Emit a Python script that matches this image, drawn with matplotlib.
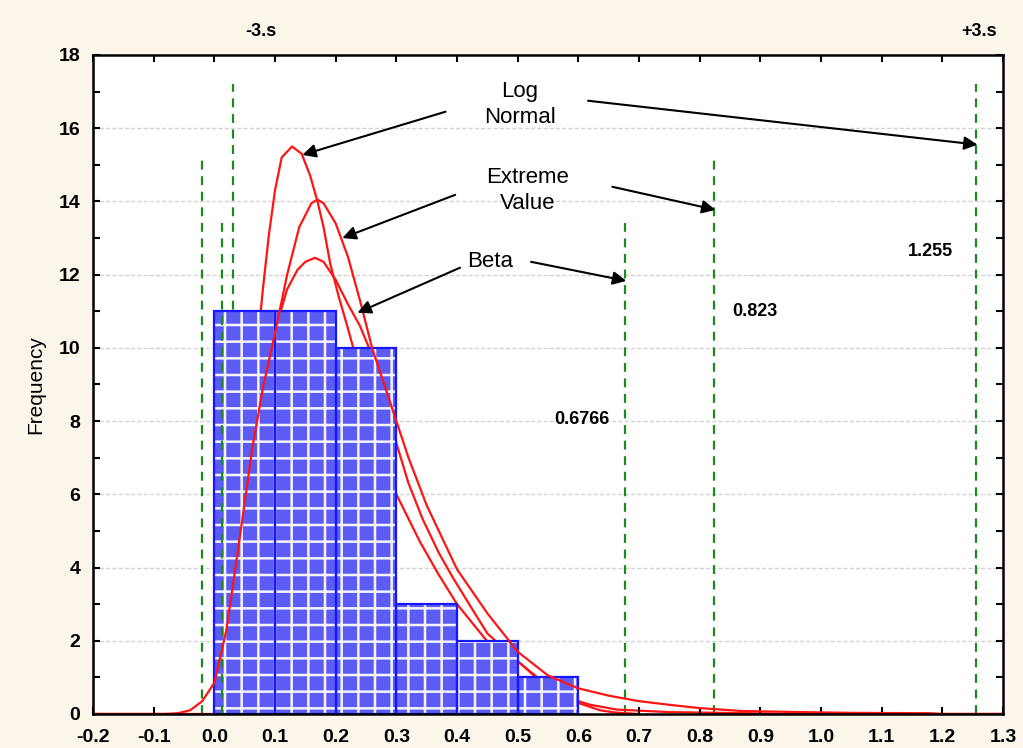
import matplotlib.pyplot as plt
from matplotlib.ticker import MultipleLocator, FormatStrFormatter

plt.rcParams['font.family'] = ['Liberation Sans', 'DejaVu Sans']
plt.rcParams['hatch.linewidth'] = 1.8

# Histograma
bin_left = [0.0, 0.1, 0.2, 0.3, 0.4, 0.5]
freq = [11, 11, 10, 3, 2, 1]
bin_width = 0.1

# Curvas ajustadas
ln_x = [-0.2, 0.0, 0.02, 0.03, 0.04, 0.05, 0.06, 0.07, 0.08, 0.09, 0.10, 0.111, 0.128,
        0.144, 0.158, 0.17, 0.18, 0.191, 0.205, 0.219, 0.229, 0.25, 0.27, 0.30, 0.339,
        0.37, 0.40, 0.449, 0.504, 0.54, 0.556, 0.60, 0.62, 0.663, 0.75, 0.88, 0.95, 1.3]
ln_y = [0, 0, 0.6, 2.0, 3.9, 6.0, 8.0, 9.9, 11.6, 13.1, 14.3, 15.2, 15.5,
        15.3, 14.7, 14.0, 13.3, 12.3, 11.4, 10.6, 10.0, 8.8, 7.6, 6.0, 4.7,
        3.8, 3.0, 2.0, 1.38, 0.9, 0.65, 0.35, 0.25, 0.12, 0.05, 0.02, 0, 0]

ev_x = [-0.2, -0.08, -0.06, -0.04, -0.02, 0.0, 0.02, 0.04, 0.063, 0.08, 0.10, 0.12, 0.14,
        0.16, 0.17, 0.18, 0.20, 0.22, 0.24, 0.26, 0.28, 0.30, 0.32, 0.35, 0.37, 0.40,
        0.45, 0.50, 0.55, 0.60, 0.65, 0.70, 0.75, 0.80, 0.87, 0.97, 1.05, 1.18, 1.2, 1.3]
ev_y = [0, 0, 0.02, 0.1, 0.35, 0.85, 2.3, 4.6, 7.3, 8.9, 10.4, 12.0, 13.3,
        13.95, 14.05, 13.95, 13.4, 12.5, 11.3, 10.0, 9.0, 8.0, 7.0, 5.7, 5.0, 3.95,
        2.75, 1.7, 1.05, 0.7, 0.5, 0.35, 0.25, 0.16, 0.08, 0.05, 0.03, 0.02, 0, 0]

beta_x = [0.0, 0.02, 0.04, 0.06, 0.08, 0.10, 0.109, 0.12, 0.137, 0.15, 0.166, 0.18, 0.20,
          0.22, 0.24, 0.255, 0.28, 0.30, 0.32, 0.344, 0.37, 0.394, 0.42, 0.45, 0.50,
          0.53, 0.556, 0.60, 0.636, 0.66, 0.70]
beta_y = [0, 1.5, 3.6, 5.8, 8.0, 10.2, 10.98, 11.6, 12.13, 12.35, 12.46, 12.35, 11.86,
          11.2, 10.6, 10.0, 8.7, 7.4, 6.3, 5.3, 4.4, 3.7, 3.0, 2.2, 1.45,
          1.0, 0.55, 0.3, 0.1, 0.04, 0.0]

# Limites -3s / +3s
lim_x = [-0.02, 0.012, 0.03, 0.6766, 0.823, 1.255]
lim_top = [15.3, 13.4, 17.2, 13.4, 15.3, 17.2]
lim_labels = ['0.6766', '0.823', '1.255']

fig = plt.figure(figsize=(10.23, 7.48), dpi=100, facecolor='#fcf6ea')
ax = fig.add_axes([0.0909, 0.0455, 0.8896, 0.881])
ax.set_facecolor('white')

ax.set_xlim(-0.2, 1.3)
ax.set_ylim(0, 18)

# grid
for g in range(2, 18, 2):
    ax.axhline(g, color='#d2d2d2', lw=1, ls=(0, (3, 1.5)), zorder=0)

# lineas verdes
for i, (xv, h) in enumerate(zip(lim_x, lim_top)):
    z = 4 if i == 1 else 1
    ax.vlines(xv, 0, h, colors='#1e8a1e', linestyles=(0, (4, 3)), lw=1.6, zorder=z)

ax.plot(ln_x, ln_y, color='#ff1414', lw=1.6, zorder=1.5)
ax.plot(beta_x, beta_y, color='#ff1414', lw=1.6, zorder=1.5)

# barras con trama
ax.bar(bin_left, freq, width=bin_width, align='edge', color='#5c5cf4',
       edgecolor='#f4f4ff', hatch='+', lw=0, zorder=2)
ax.bar(bin_left, freq, width=bin_width, align='edge', fill=False,
       edgecolor='#1616ff', lw=1.6, zorder=3)

ax.plot(ev_x, ev_y, color='#ff1414', lw=1.6, zorder=5)

# ejes
ax.xaxis.set_major_locator(MultipleLocator(0.1))
ax.xaxis.set_major_formatter(FormatStrFormatter('%.1f'))
ax.yaxis.set_major_locator(MultipleLocator(2))
ax.yaxis.set_minor_locator(MultipleLocator(1))
ax.tick_params(which='both', direction='in', top=True, right=True, length=5,
               width=1.5, labelsize=14)
ax.tick_params(axis='x', pad=11)
ax.tick_params(axis='y', pad=9)
for lab in ax.get_xticklabels() + ax.get_yticklabels():
    lab.set_fontweight('bold')
for s in ax.spines.values():
    s.set_linewidth(1.8)
    s.set_zorder(6)
ax.set_ylabel('Frequency', fontsize=15, labelpad=10)

# textos y flechas
tfs = 16
ap = dict(arrowstyle='-|>', color='black', lw=1.5, mutation_scale=20, shrinkA=0, shrinkB=0)
ax.text(0.504, 16.65, 'Log\nNormal', ha='center', va='center', fontsize=tfs, linespacing=1.3, zorder=7)
ax.annotate('', xy=(0.145, 15.27), xytext=(0.381, 16.45), arrowprops=ap, zorder=7)
ax.annotate('', xy=(1.258, 15.55), xytext=(0.616, 16.75), arrowprops=ap, zorder=7)

ax.text(0.516, 14.3, 'Extreme\nValue', ha='center', va='center', fontsize=tfs, linespacing=1.3, zorder=7)
ax.annotate('', xy=(0.211, 13.0), xytext=(0.397, 14.18), arrowprops=ap, zorder=7)
ax.annotate('', xy=(0.826, 13.77), xytext=(0.656, 14.4), arrowprops=ap, zorder=7)

ax.text(0.455, 12.35, 'Beta', ha='center', va='center', fontsize=tfs, zorder=7)
ax.annotate('', xy=(0.236, 10.96), xytext=(0.405, 12.19), arrowprops=ap, zorder=7)
ax.annotate('', xy=(0.679, 11.83), xytext=(0.522, 12.35), arrowprops=ap, zorder=7)

ax.text(0.606, 8.03, lim_labels[0], ha='center', va='center', fontsize=13, fontweight='bold', zorder=7)
ax.text(0.891, 10.98, lim_labels[1], ha='center', va='center', fontsize=13, fontweight='bold', zorder=7)
ax.text(1.18, 12.62, lim_labels[2], ha='center', va='center', fontsize=13, fontweight='bold', zorder=7)

fig.text(261 / 1023, 1 - 32 / 748, '-3.s', ha='center', va='center', fontsize=13, fontweight='bold')
fig.text(979 / 1023, 1 - 32 / 748, '+3.s', ha='center', va='center', fontsize=13, fontweight='bold')

fig.savefig('out.png', dpi=100, facecolor=fig.get_facecolor())
